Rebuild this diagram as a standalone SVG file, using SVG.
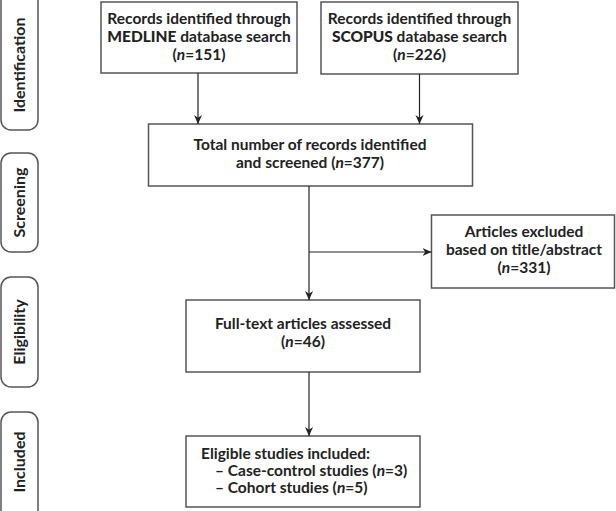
<svg xmlns="http://www.w3.org/2000/svg" width="616" height="511" viewBox="0 0 616 511">
<defs>
<marker id="ah" viewBox="0 0 10 10" refX="10" refY="5" markerWidth="9" markerHeight="9" markerUnits="userSpaceOnUse" orient="auto">
<path d="M0,0.5 L10,5 L0,9.5 L3,5 Z" fill="#222"/>
</marker>
<style>
.box{fill:#fff;stroke:#555;stroke-width:1.5}
.side{fill:#fff;stroke:#555;stroke-width:1.5}
.t{font-family:Lato,"Liberation Sans",sans-serif;font-weight:700;font-size:15.5px;fill:#222}
.c{text-anchor:middle}
.h{font-weight:900}
.s{font-family:Lato,"Liberation Sans",sans-serif;font-weight:700;font-size:16px;fill:#222;text-anchor:middle}
.ln{stroke:#222;stroke-width:1.2;fill:none}
</style>
</defs>
<g id="phase-identification">
<rect class="side" x="1" y="-10" width="37" height="140" rx="10"/>
<text class="s" transform="translate(25,65) rotate(-90)">Identification</text>
</g>
<g id="phase-screening">
<rect class="side" x="1" y="153" width="37" height="99" rx="10"/>
<text class="s" transform="translate(25,202.5) rotate(-90)">Screening</text>
</g>
<g id="phase-eligibility">
<rect class="side" x="1" y="277" width="37" height="110" rx="10"/>
<text class="s" transform="translate(25,332) rotate(-90)">Eligibility</text>
</g>
<g id="phase-included">
<rect class="side" x="1" y="412" width="37" height="110" rx="10"/>
<text class="s" transform="translate(25,462) rotate(-90)">Included</text>
</g>
<g id="medline">
<rect class="box" x="101" y="2" width="196" height="71"/>
<text class="t c" x="199" y="24">Records identified through</text>
<text class="t c" x="199" y="42"><tspan class="h">MEDLINE</tspan> database search</text>
<text class="t c" x="199" y="60">(<tspan font-style="italic">n</tspan>=151)</text>
</g>
<g id="scopus">
<rect class="box" x="321" y="2" width="197" height="72"/>
<text class="t c" x="419.5" y="24">Records identified through</text>
<text class="t c" x="419.5" y="42"><tspan class="h">SCOPUS</tspan> database search</text>
<text class="t c" x="419.5" y="60">(<tspan font-style="italic">n</tspan>=226)</text>
</g>
<g id="total">
<rect class="box" x="148.5" y="124" width="324" height="62"/>
<text class="t c" x="310" y="150">Total number of records identified</text>
<text class="t c" x="310" y="168">and screened (<tspan font-style="italic">n</tspan>=377)</text>
</g>
<g id="excluded">
<rect class="box" x="431.5" y="215" width="183" height="73"/>
<text class="t c" x="524" y="237">Articles excluded</text>
<text class="t c" x="524" y="255">based on title/abstract</text>
<text class="t c" x="524" y="273">(<tspan font-style="italic">n</tspan>=331)</text>
</g>
<g id="fulltext">
<rect class="box" x="186" y="300" width="234" height="72"/>
<text class="t c" x="303" y="329">Full-text articles assessed</text>
<text class="t c" x="303" y="347">(<tspan font-style="italic">n</tspan>=46)</text>
</g>
<g id="included">
<rect class="box" x="186" y="436" width="234" height="71"/>
<text class="t" x="201" y="459">Eligible studies included:</text>
<text class="t" x="215" y="476">– Case-control studies (<tspan font-style="italic">n</tspan>=3)</text>
<text class="t" x="215" y="493">– Cohort studies (<tspan font-style="italic">n</tspan>=5)</text>
</g>
<g id="connectors">
<line class="ln" x1="198" y1="73" x2="198" y2="124" marker-end="url(#ah)"/>
<line class="ln" x1="419.5" y1="74" x2="419.5" y2="124" marker-end="url(#ah)"/>
<line class="ln" x1="309" y1="186" x2="309" y2="300" marker-end="url(#ah)"/>
<line class="ln" x1="309" y1="252" x2="431.5" y2="252" marker-end="url(#ah)"/>
<line class="ln" x1="309" y1="372" x2="309" y2="436" marker-end="url(#ah)"/>
</g>
</svg>
